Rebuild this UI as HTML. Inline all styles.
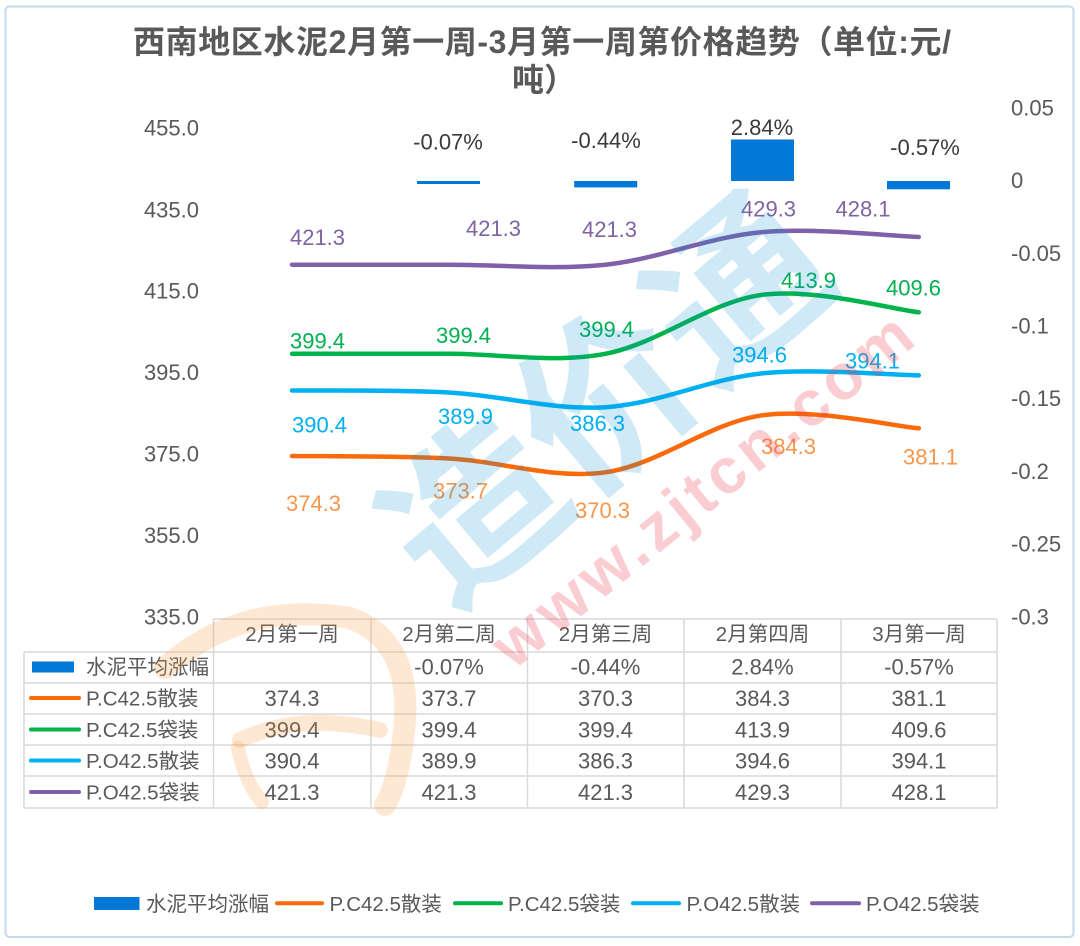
<!DOCTYPE html>
<html><head><meta charset="utf-8"><style>
html,body{margin:0;padding:0;background:#fff;}
svg{display:block;}
text{font-family:"Liberation Sans","Noto Sans CJK SC",sans-serif;}
</style></head><body>
<svg width="1080" height="946" viewBox="0 0 1080 946" xmlns="http://www.w3.org/2000/svg">
<rect x="0" y="0" width="1080" height="946" fill="#fff"/>
<rect x="5.5" y="6.5" width="1068" height="930.5" rx="4" fill="#fff" stroke="#c5d8ee" stroke-width="2"/>

<!-- Title -->
<text x="133" y="53" font-size="32" font-weight="bold" fill="#595959" textLength="818" lengthAdjust="spacing">西南地区水泥2月第一周-3月第一周第价格趋势（单位:元/</text>
<text x="512" y="91" font-size="32" font-weight="bold" fill="#595959">吨）</text>

<!-- Left axis -->
<g font-size="22" fill="#595959" text-anchor="end">
<text x="199" y="135.4">455.0</text>
<text x="199" y="217.4">435.0</text>
<text x="199" y="298.6">415.0</text>
<text x="199" y="380">395.0</text>
<text x="199" y="461.4">375.0</text>
<text x="199" y="542.8">355.0</text>
<text x="199" y="624.3">335.0</text>
</g>
<!-- Right axis -->
<g font-size="22" fill="#595959">
<text x="1011" y="115.4">0.05</text>
<text x="1011" y="188.1">0</text>
<text x="1011" y="260.8">-0.05</text>
<text x="1011" y="333.5">-0.1</text>
<text x="1011" y="406.2">-0.15</text>
<text x="1011" y="478.9">-0.2</text>
<text x="1011" y="551.6">-0.25</text>
<text x="1011" y="624.3">-0.3</text>
</g>

<!-- Bars -->
<g fill="#0078d7">
<rect x="417" y="181" width="63" height="3"/>
<rect x="574.2" y="181" width="63" height="6.4"/>
<rect x="731" y="139.5" width="63" height="41.5"/>
<rect x="887" y="181" width="63" height="8.3"/>
</g>
<g font-size="22" fill="#3a3a3a" text-anchor="middle">
<text x="448" y="149.4">-0.07%</text>
<text x="606" y="147.9">-0.44%</text>
<text x="762" y="134.9">2.84%</text>
<text x="925" y="154.9">-0.57%</text>
</g>

<!-- Lines -->
<g fill="none" stroke-width="4.5" stroke-linecap="round">
<path stroke="#8060a8" d="M292,264.7 C318.1,264.7 396.5,264.7 448.7,264.7 C500.9,264.7 553.2,270.1 605.4,264.7 C657.6,259.3 709.9,236.7 762.1,232.1 C814.3,227.5 892.7,236.2 918.8,237"/>
<path stroke="#00b34a" d="M292,353.8 C318.1,353.8 396.5,353.8 448.7,353.8 C500.9,353.8 553.2,363.6 605.4,353.8 C657.6,344 709.9,301.7 762.1,294.8 C814.3,287.9 892.7,309.4 918.8,312.3"/>
<path stroke="#00b0f0" d="M292,390.5 C318.1,390.8 396.5,389.7 448.7,392.5 C500.9,395.3 553.2,410.4 605.4,407.2 C657.6,404 709.9,378.7 762.1,373.4 C814.3,368.1 892.7,375.1 918.8,375.4"/>
<path stroke="#fa6a0a" d="M292,456 C318.1,456.4 396.5,455.8 448.7,458.5 C500.9,461.2 553.2,479.5 605.4,472.3 C657.6,465.1 709.9,422.6 762.1,415.3 C814.3,408 892.7,426.1 918.8,428.3"/>
</g>

<!-- Data labels -->
<g font-size="22" text-anchor="middle">
<g fill="#8064a2">
<text x="317.5" y="244.9">421.3</text>
<text x="493.5" y="235.9">421.3</text>
<text x="609.5" y="236.9">421.3</text>
<text x="768.5" y="216.4">429.3</text>
<text x="863" y="216.4">428.1</text>
</g>
<g fill="#00b050">
<text x="317.5" y="348.4">399.4</text>
<text x="463.5" y="342.9">399.4</text>
<text x="606.5" y="336.9">399.4</text>
<text x="808.5" y="287.9">413.9</text>
<text x="913.5" y="295.4">409.6</text>
</g>
<g fill="#00b0f0">
<text x="319.5" y="432.4">390.4</text>
<text x="465.5" y="423.9">389.9</text>
<text x="597.5" y="430.9">386.3</text>
<text x="759.5" y="362.4">394.6</text>
<text x="872.5" y="368.4">394.1</text>
</g>
<g fill="#f7964b">
<text x="313.5" y="510.9">374.3</text>
<text x="460.5" y="498.4">373.7</text>
<text x="602.5" y="517.9">370.3</text>
<text x="788.5" y="453.9">384.3</text>
<text x="930.5" y="464.4">381.1</text>
</g>
</g>

<!-- Table -->
<g stroke="#d9d9d9" stroke-width="1.5" fill="none">
<line x1="213.5" y1="619" x2="997" y2="619"/>
<line x1="24" y1="652" x2="997" y2="652"/>
<line x1="24" y1="683" x2="997" y2="683"/>
<line x1="24" y1="714" x2="997" y2="714"/>
<line x1="24" y1="745" x2="997" y2="745"/>
<line x1="24" y1="776" x2="997" y2="776"/>
<line x1="24" y1="808" x2="997" y2="808"/>
<line x1="24" y1="652" x2="24" y2="808"/>
<line x1="213.5" y1="619" x2="213.5" y2="808"/>
<line x1="371" y1="619" x2="371" y2="808"/>
<line x1="527.5" y1="619" x2="527.5" y2="808"/>
<line x1="684" y1="619" x2="684" y2="808"/>
<line x1="841" y1="619" x2="841" y2="808"/>
<line x1="997" y1="619" x2="997" y2="808"/>
</g>
<g font-size="20.5" fill="#595959" text-anchor="middle">
<text x="292" y="641">2月第一周</text>
<text x="449" y="641">2月第二周</text>
<text x="605.5" y="641">2月第三周</text>
<text x="762.5" y="641">2月第四周</text>
<text x="919" y="641">3月第一周</text>
</g>
<!-- table row keys -->
<rect x="32" y="661.5" width="42" height="11" fill="#0078d7"/>
<g stroke-width="4" stroke-linecap="round">
<line x1="31" y1="698" x2="79" y2="698" stroke="#fa6a0a"/>
<line x1="31" y1="729.5" x2="79" y2="729.5" stroke="#00b34a"/>
<line x1="31" y1="760.5" x2="79" y2="760.5" stroke="#00b0f0"/>
<line x1="31" y1="792" x2="79" y2="792" stroke="#8060a8"/>
</g>
<g font-size="20.5" fill="#595959">
<text x="86" y="674">水泥平均涨幅</text>
<text x="86" y="705.5">P.C42.5散装</text>
<text x="86" y="737">P.C42.5袋装</text>
<text x="86" y="768">P.O42.5散装</text>
<text x="86" y="799.5">P.O42.5袋装</text>
</g>
<g font-size="22" fill="#595959" text-anchor="middle">
<text x="449" y="674.4">-0.07%</text>
<text x="605.5" y="674.4">-0.44%</text>
<text x="762.5" y="674.4">2.84%</text>
<text x="919" y="674.4">-0.57%</text>

<text x="292" y="705.9">374.3</text>
<text x="449" y="705.9">373.7</text>
<text x="605.5" y="705.9">370.3</text>
<text x="762.5" y="705.9">384.3</text>
<text x="919" y="705.9">381.1</text>

<text x="292" y="737.4">399.4</text>
<text x="449" y="737.4">399.4</text>
<text x="605.5" y="737.4">399.4</text>
<text x="762.5" y="737.4">413.9</text>
<text x="919" y="737.4">409.6</text>

<text x="292" y="768.4">390.4</text>
<text x="449" y="768.4">389.9</text>
<text x="605.5" y="768.4">386.3</text>
<text x="762.5" y="768.4">394.6</text>
<text x="919" y="768.4">394.1</text>

<text x="292" y="799.9">421.3</text>
<text x="449" y="799.9">421.3</text>
<text x="605.5" y="799.9">421.3</text>
<text x="762.5" y="799.9">429.3</text>
<text x="919" y="799.9">428.1</text>
</g>

<!-- Bottom legend -->
<rect x="94" y="897" width="45.5" height="13" fill="#0078d7"/>
<g stroke-width="4" stroke-linecap="round">
<line x1="277" y1="903.3" x2="322" y2="903.3" stroke="#fa6a0a"/>
<line x1="455" y1="903.3" x2="501" y2="903.3" stroke="#00b34a"/>
<line x1="633" y1="903.3" x2="679" y2="903.3" stroke="#00b0f0"/>
<line x1="812" y1="903.3" x2="859" y2="903.3" stroke="#8060a8"/>
</g>
<g font-size="20.5" fill="#595959">
<text x="146" y="911">水泥平均涨幅</text>
<text x="329.5" y="911">P.C42.5散装</text>
<text x="508" y="911">P.C42.5袋装</text>
<text x="686.5" y="911">P.O42.5散装</text>
<text x="866" y="911">P.O42.5袋装</text>
</g>

<!-- Watermarks -->
<g fill="none" stroke="rgba(250,150,60,0.22)" stroke-linecap="round">
<path stroke-width="22" d="M165,668 Q240,600 350,618 Q410,640 405,720 Q400,780 385,805"/>
<path stroke-width="16" d="M240,740 Q300,712 380,730"/>
<path stroke-width="14" d="M238,748 Q245,782 262,802"/>
</g>
<text x="0" y="0" font-size="172" font-weight="bold" fill="rgba(0,140,210,0.19)" text-anchor="middle" dominant-baseline="central" transform="translate(608,402) rotate(-40)" font-family="Noto Sans CJK SC, sans-serif">造价通</text>
<text x="0" y="0" font-size="64" font-weight="bold" fill="rgba(235,60,80,0.26)" text-anchor="middle" dominant-baseline="central" transform="translate(702,490) rotate(-39)" textLength="520" lengthAdjust="spacing">www.zjtcn.com</text>
</svg>
</body></html>
